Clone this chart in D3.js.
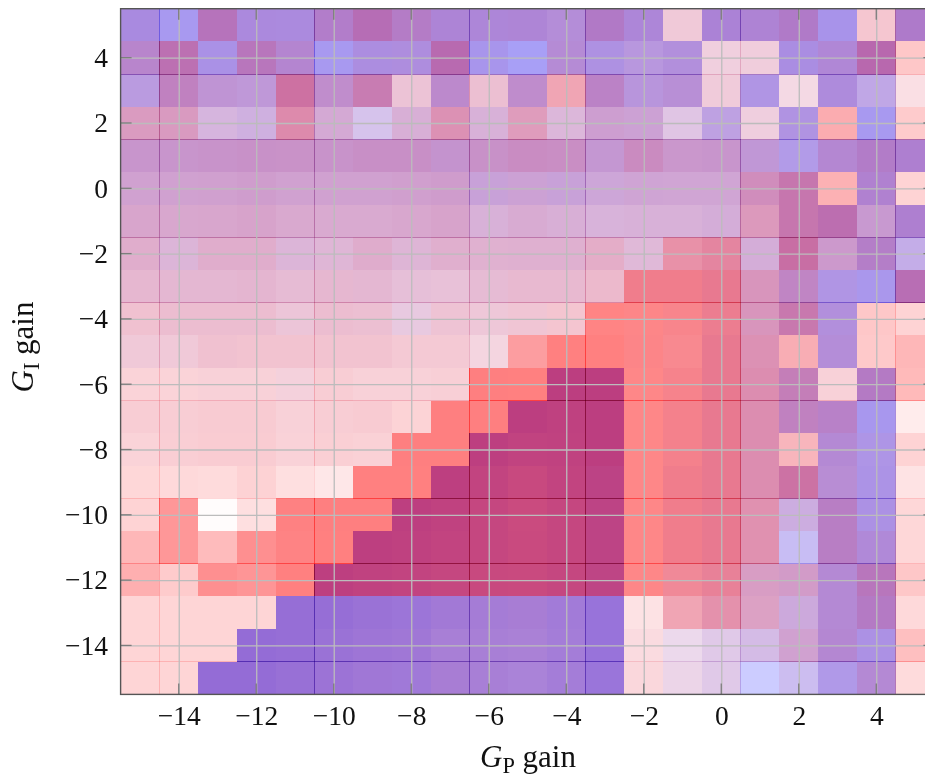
<!DOCTYPE html>
<html>
<head>
<meta charset="utf-8">
<script src="https://cdn.jsdelivr.net/npm/d3@7"></script>
<style>
  html, body { margin: 0; background: #fff; overflow: hidden; }
  svg { display: block; }
  text { font-family: "Liberation Serif", serif; fill: #111; }
</style>
</head>
<body>
<svg id="chart" width="925" height="778"></svg>
<script>
const gpGains = [-15,-14,-13,-12,-11,-10,-9,-8,-7,-6,-5,-4,-3,-2,-1,0,1,2,3,4,5];
const giGains = [5,4,3,2,1,0,-1,-2,-3,-4,-5,-6,-7,-8,-9,-10,-11,-12,-13,-14,-15];
const xTicks = [-14,-12,-10,-8,-6,-4,-2,0,2,4];
const yTicks = [4,2,0,-2,-4,-6,-8,-10,-12,-14];

// cell boundaries where neighbouring patches overlap in the source
const xSeams = [-14.5,-10.5,-6.5,-3.5,0.5,4.5];
const ySeams = [3.5,1.5,-1.5,-3.5,-6.5,-9.5,-11.5,-14.5];

// blue layer strength, one row per GI gain (top row first)
const coolValues = [
  [86,87,73,84,84,77,73,75,82,82,81,75,78,82,15,84,81,79,87,10,81],
  [71,67,85,71,75,87,83,81,71,87,87,74,81,71,77,15,15,85,79,71,1],
  [69,63,64,64,50,63,55,19,67,19,64,15,68,71,71,15,79,11,81,63,5],
  [37,38,41,48,34,43,41,39,35,39,32,35,50,51,31,65,16,79,4,87,1],
  [55,55,55,55,54,55,55,55,59,55,54,54,59,53,53,55,63,77,75,77,81],
  [47,47,47,48,47,47,47,47,48,55,51,55,50,48,47,47,47,57,3,79,1],
  [39,39,39,40,38,38,38,39,40,39,39,39,39,39,39,43,35,57,67,55,81],
  [31,35,31,31,35,32,32,33,31,31,32,32,27,31,23,27,43,55,51,75,59],
  [25,27,27,27,25,25,27,25,23,25,23,23,19,15,15,23,39,63,79,85,71],
  [15,19,19,19,19,19,19,23,17,17,15,11,0,2,7,19,39,55,77,1,1],
  [15,15,15,13,13,13,13,11,11,11,3,0,0,3,7,23,35,7,75,1,1],
  [5,5,7,7,11,7,7,7,7,1,0,67,67,1,9,23,35,59,7,75,0],
  [7,7,7,7,7,7,7,3,1,1,67,64,67,1,11,23,35,63,71,87,0],
  [5,6,6,6,6,5,5,1,1,66,62,63,67,1,11,23,35,7,75,81,1],
  [1,1,1,2,1,1,0,0,66,61,55,61,67,1,15,23,35,51,71,83,1],
  [1,1,0,1,1,1,1,66,63,58,53,58,66,1,15,23,31,51,71,83,1],
  [1,1,1,1,1,0,66,64,61,58,54,58,66,1,15,23,31,55,71,79,1],
  [1,1,1,1,0,66,63,61,58,55,54,58,65,1,15,23,39,45,75,71,1],
  [1,1,1,1,105,105,101,99,93,90,87,93,103,2,15,27,35,51,75,75,1],
  [1,1,1,107,105,101,97,95,87,87,85,91,103,5,19,31,43,47,75,83,1],
  [1,1,107,107,103,99,95,95,87,87,85,91,101,5,19,31,51,51,79,75,1]
];

// red layer strength, same layout
const warmValues = [
  [31,15,68,34,33,53,74,57,41,39,41,39,57,39,39,41,43,55,21,47,53],
  [51,77,25,67,47,15,31,33,79,19,9,42,29,33,35,33,35,29,41,81,55],
  [31,63,43,39,93,51,77,41,51,45,51,75,57,35,41,37,27,27,35,25,27],
  [63,63,33,31,83,43,19,41,75,39,67,37,47,43,27,29,33,29,79,15,51],
  [51,51,53,55,55,53,57,57,49,55,61,59,45,63,51,51,41,23,45,55,47],
  [47,47,48,50,47,47,47,49,51,39,43,39,39,43,43,43,67,81,75,47,43],
  [51,49,50,52,48,47,47,49,52,39,45,41,37,39,39,39,67,81,79,47,47],
  [51,39,51,51,39,41,51,41,49,47,47,47,55,39,87,95,39,91,51,55,23],
  [47,45,45,47,43,47,45,39,39,43,47,47,51,115,115,111,67,59,27,19,75],
  [47,47,47,47,39,47,45,31,43,39,43,47,123,119,115,111,67,81,35,55,43],
  [39,39,47,47,47,47,47,43,43,31,95,127,127,119,111,111,75,75,39,53,71],
  [39,39,39,39,35,43,39,39,41,127,127,127,127,119,115,111,79,71,39,59,69],
  [43,43,45,45,39,43,45,41,127,127,127,127,127,119,115,111,79,63,55,17,19],
  [39,43,45,45,39,43,41,127,127,127,127,127,127,119,115,111,79,67,43,25,43],
  [39,37,35,43,31,23,127,127,127,127,128,127,122,119,115,111,79,91,43,25,27],
  [43,103,3,31,125,127,127,127,127,127,128,127,122,119,115,111,79,31,59,27,39],
  [71,103,67,111,123,127,127,127,127,127,128,127,122,119,115,111,79,11,59,39,39],
  [79,51,111,105,127,127,127,127,127,128,128,127,122,119,103,103,59,55,43,67,55],
  [41,41,41,41,41,41,41,39,41,41,43,39,37,27,75,83,59,35,43,59,37],
  [41,41,41,41,41,41,41,41,41,41,41,39,37,31,19,23,25,47,45,27,63],
  [41,41,41,41,41,41,41,39,43,41,39,39,37,35,23,23,0,15,23,43,35]
];

const x = d3.scaleLinear().domain([-15.5, 5.5]).range([120.6, 934.4]);
const y = d3.scaleLinear().domain([-15.5, 5.5]).range([694.4, 8.7]);

const redChannel = d3.scaleLinear().domain([0, 255]).range([255, 0]);
const blueChannel = d3.scaleLinear().domain([0, 255]).range([255, 0]);

// two tints stacked over white, green drops where both are strong
function cellColor(cool, warm) {
  const r = redChannel(cool);
  const b = blueChannel(warm);
  const g = r * b / 255 - 0.0038 * cool * warm;
  return d3.rgb(r, g, b).formatHex();
}

const cells = giGains.flatMap((gi, row) => gpGains.map((gp, col) => ({
  gp, gi,
  fill: cellColor(coolValues[row][col], warmValues[row][col])
})));

const svg = d3.select('#chart');

svg.append('g')
  .attr('shape-rendering', 'crispEdges')
  .selectAll('rect')
  .data(cells)
  .join('rect')
    .attr('x', d => x(d.gp - 0.5))
    .attr('y', d => y(d.gi + 0.5))
    .attr('width', d => x(d.gp + 0.5) - x(d.gp - 0.5))
    .attr('height', d => y(d.gi - 0.5) - y(d.gi + 0.5))
    .attr('fill', d => d.fill);

// Overlap lines: each cell's colour multiplied onto itself
const seams = svg.append('g')
  .attr('shape-rendering', 'crispEdges');

xSeams.forEach(s => {
  seams.selectAll(null)
    .data(cells.filter(d => d.gp - 0.5 === s))
    .join('rect')
      .attr('x', d => x(s) - 0.5)
      .attr('y', d => y(d.gi + 0.5))
      .attr('width', 1)
      .attr('height', d => y(d.gi - 0.5) - y(d.gi + 0.5))
      .attr('fill', d => d.fill)
      .style('mix-blend-mode', 'multiply');
});

ySeams.forEach(s => {
  seams.selectAll(null)
    .data(cells.filter(d => d.gi - 0.5 === s))
    .join('rect')
      .attr('x', d => x(d.gp - 0.5))
      .attr('y', () => y(s) - 0.5)
      .attr('width', d => x(d.gp + 0.5) - x(d.gp - 0.5))
      .attr('height', 1)
      .attr('fill', d => d.fill)
      .style('mix-blend-mode', 'multiply');
});

const iW = x.range()[1] - x.range()[0];
const iH = y.range()[0] - y.range()[1];

// Grid lines
svg.append('g')
  .attr('transform', `translate(0,${y.range()[0]})`)
  .call(d3.axisBottom(x).tickValues(xTicks).tickSize(-iH).tickFormat(''))
  .call(ax => ax.select('.domain').remove())
  .call(ax => ax.selectAll('.tick line').attr('stroke', '#bcbcbc').attr('stroke-width', 1.3));

svg.append('g')
  .attr('transform', `translate(${x.range()[0]},0)`)
  .call(d3.axisLeft(y).tickValues(yTicks).tickSize(-iW).tickFormat(''))
  .call(ax => ax.select('.domain').remove())
  .call(ax => ax.selectAll('.tick line').attr('stroke', '#bcbcbc').attr('stroke-width', 1.3));

// Inner tick marks on all four sides
const tickLen = 11;
[[y.range()[0], -tickLen], [y.range()[1], tickLen]].forEach(([py, len]) => {
  svg.append('g').selectAll('line')
    .data(xTicks)
    .join('line')
      .attr('x1', d => x(d)).attr('x2', d => x(d))
      .attr('y1', py).attr('y2', py + len)
      .attr('stroke', '#7d7d7d').attr('stroke-width', 1.3);
});
[[x.range()[0], tickLen], [x.range()[1], -tickLen]].forEach(([px, len]) => {
  svg.append('g').selectAll('line')
    .data(yTicks)
    .join('line')
      .attr('y1', d => y(d)).attr('y2', d => y(d))
      .attr('x1', px).attr('x2', px + len)
      .attr('stroke', '#7d7d7d').attr('stroke-width', 1.3);
});

// Frame
svg.append('rect')
  .attr('x', x.range()[0]).attr('y', y.range()[1])
  .attr('width', iW).attr('height', iH)
  .attr('fill', 'none')
  .attr('stroke', '#555').attr('stroke-width', 1.4);

// Tick labels
const tickFont = 27.5;
const titleFont = 31;

svg.append('g')
  .attr('transform', `translate(0,${y.range()[0]})`)
  .call(d3.axisBottom(x).tickValues(xTicks).tickSize(0).tickPadding(11))
  .call(ax => ax.select('.domain').remove())
  .call(ax => ax.selectAll('text').attr('font-size', tickFont));

svg.append('g')
  .attr('transform', `translate(${x.range()[0]},0)`)
  .call(d3.axisLeft(y).tickValues(yTicks).tickSize(0).tickPadding(12.6))
  .call(ax => ax.select('.domain').remove())
  .call(ax => ax.selectAll('text').attr('font-size', tickFont));

// Axis titles
function axisTitle(sel, sub) {
  sel.attr('font-size', titleFont).attr('text-anchor', 'middle');
  sel.append('tspan').attr('font-style', 'italic').text('G');
  sel.append('tspan').attr('font-size', titleFont * 0.72).attr('dy', 6).text(sub);
  sel.append('tspan').attr('dy', -6).text(' gain');
}

svg.append('text')
  .attr('x', 528).attr('y', 767)
  .call(axisTitle, 'P');

svg.append('text')
  .attr('transform', 'translate(33,347) rotate(-90)')
  .call(axisTitle, 'I');
</script>
</body>
</html>
